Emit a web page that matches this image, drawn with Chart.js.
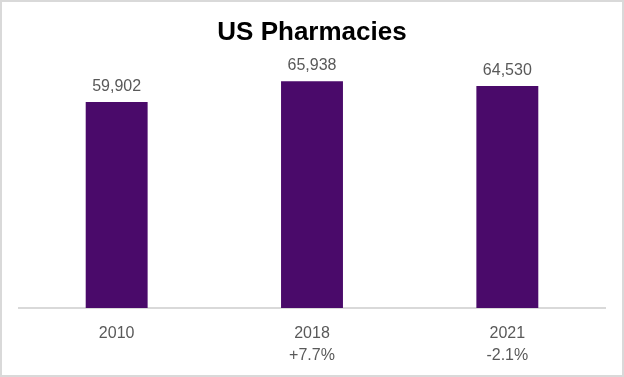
<!DOCTYPE html>
<html>
<head>
<meta charset="utf-8">
<script src="https://cdn.jsdelivr.net/npm/chart.js@4"></script>
<style>
  html, body { margin: 0; padding: 0; background: #ffffff; }
  #wrap { width: 624px; height: 377px; position: relative; }
  canvas { display: block; }
</style>
</head>
<body>
<div id="wrap"><canvas id="c" width="624" height="377"></canvas></div>
<script>
const categories = ['2010', '2018', '2021'];
const changeLabels = ['', '+7.7%', '-2.1%'];
const pharmacies = [59902, 65938, 64530];
const chartTitle = 'US Pharmacies';

const FONT = "'Liberation Sans', Arial, Helvetica, sans-serif";

const tickLabels = categories.map((c, i) => changeLabels[i] ? [c, changeLabels[i]] : [c]);

const bgBorder = {
  id: 'bgBorder',
  beforeDraw(chart) {
    const ctx = chart.ctx;
    ctx.save();
    ctx.fillStyle = '#ffffff';
    ctx.fillRect(0, 0, chart.width, chart.height);
    ctx.restore();
  },
  afterDraw(chart) {
    const ctx = chart.ctx;
    ctx.save();
    ctx.strokeStyle = '#d9d9d9';
    ctx.lineWidth = 2;
    ctx.strokeRect(1, 1, chart.width - 2, chart.height - 2);
    ctx.restore();
  }
};

const valueLabels = {
  id: 'valueLabels',
  afterDatasetsDraw(chart) {
    const ctx = chart.ctx;
    const meta = chart.getDatasetMeta(0);
    const data = chart.data.datasets[0].data;
    ctx.save();
    ctx.font = '16px ' + FONT;
    ctx.fillStyle = '#595959';
    ctx.textAlign = 'center';
    ctx.textBaseline = 'alphabetic';
    meta.data.forEach((bar, i) => {
      ctx.fillText(data[i].toLocaleString('en-US'), bar.x, bar.y - 11);
    });
    ctx.restore();
  }
};

new Chart(document.getElementById('c'), {
  type: 'bar',
  data: {
    labels: tickLabels,
    datasets: [{
      data: pharmacies,
      backgroundColor: '#4a0a6a',
      borderWidth: 0,
      barPercentage: 0.317,
      categoryPercentage: 1.0
    }]
  },
  options: {
    responsive: false,
    animation: false,
    devicePixelRatio: 1,
    layout: { padding: { left: 19, right: 19, top: 0, bottom: 0 } },
    plugins: {
      legend: { display: false },
      tooltip: { enabled: false },
      title: {
        display: true,
        text: chartTitle,
        color: '#000000',
        font: { family: FONT, size: 26, weight: 'bold', lineHeight: 1.2 },
        padding: { top: 17, bottom: 19 }
      }
    },
    scales: {
      x: {
        grid: { display: false, drawTicks: false },
        border: { display: true, color: '#d9d9d9', width: 2 },
        ticks: {
          color: '#595959',
          font: { family: FONT, size: 16, lineHeight: 1.42 },
          padding: 14,
          maxRotation: 0,
          autoSkip: false
        },
        afterFit(scale) { scale.height = 69; }
      },
      y: {
        display: false,
        min: 0,
        max: 70000
      }
    }
  },
  plugins: [bgBorder, valueLabels]
});
</script>
</body>
</html>
